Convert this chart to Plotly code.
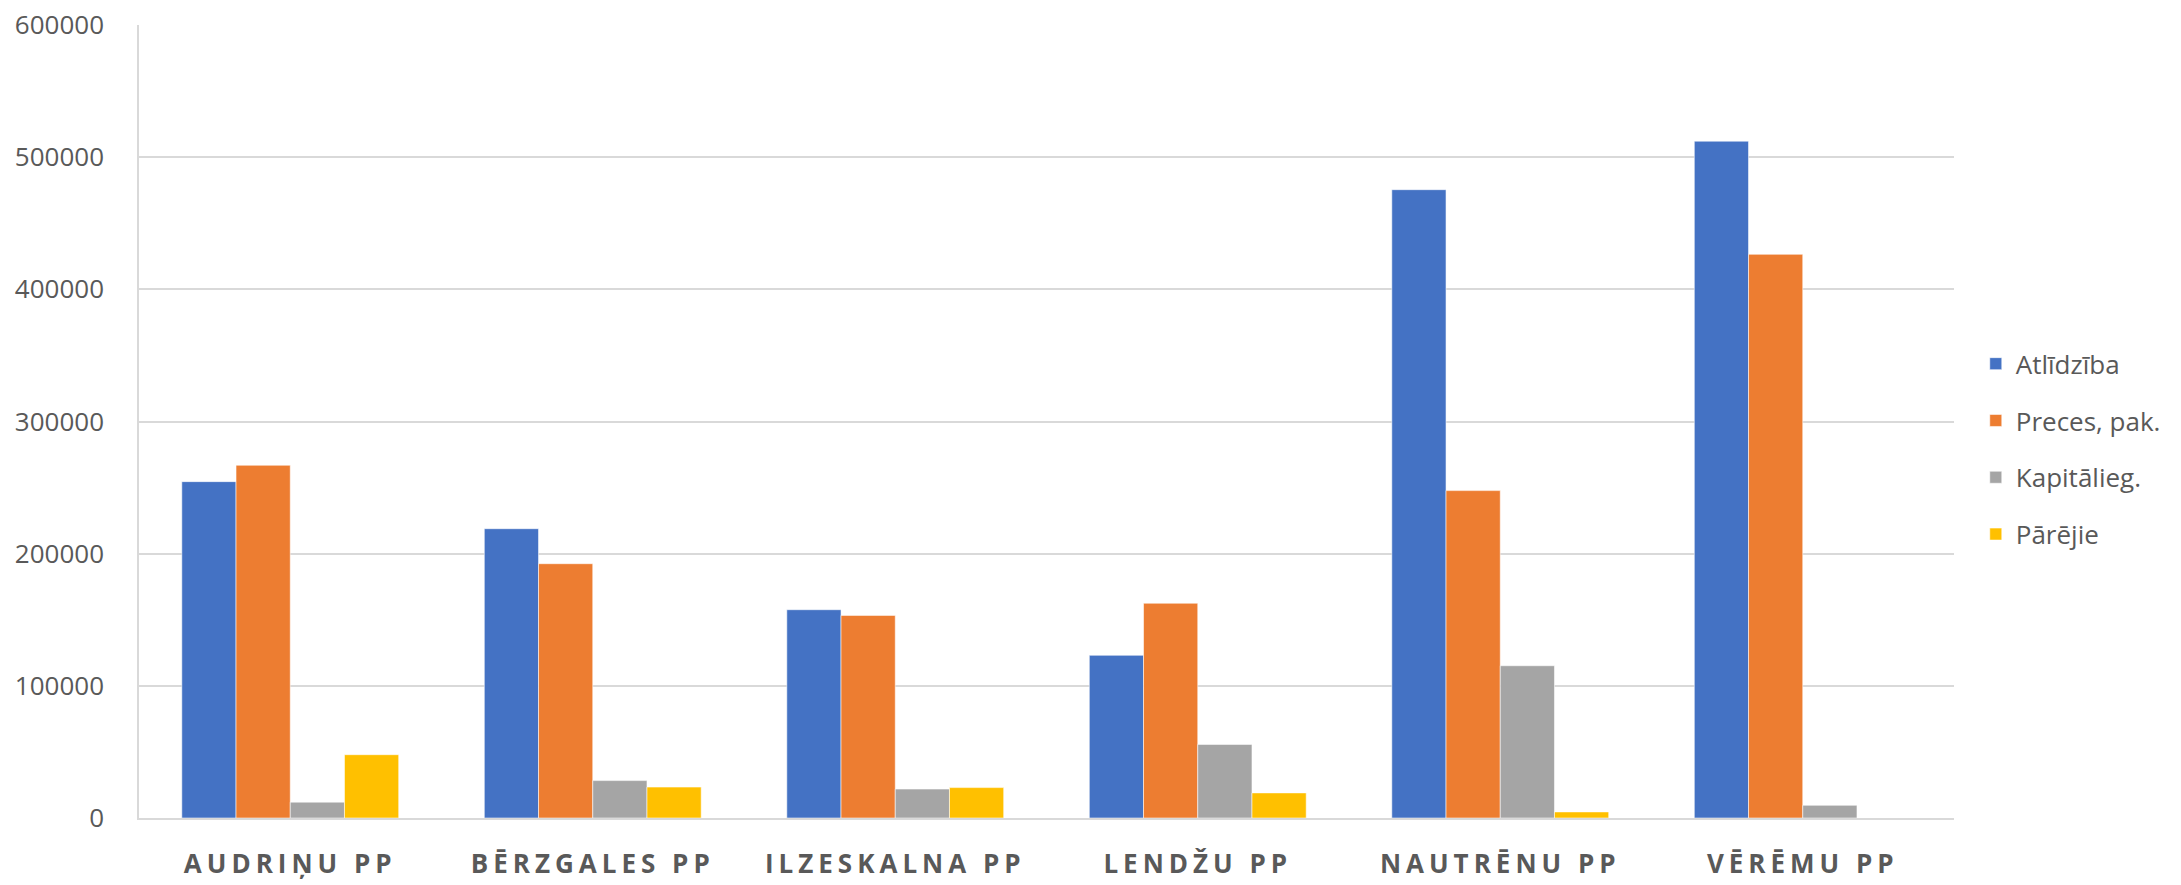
import plotly.graph_objects as go

categories = ["AUDRIŅU PP", "BĒRZGALES PP", "ILZESKALNA PP", "LENDŽU PP", "NAUTRĒNU PP", "VĒRĒMU PP"]

atlidziba = [254500, 218900, 157600, 123100, 475400, 512100]
preces = [266900, 192400, 153300, 162500, 247700, 426500]
kapitalieg = [12000, 28300, 21900, 55700, 115200, 9600]
parejie = [47900, 23400, 23000, 19000, 4600, 0]

series = [
    ("Atlīdzība", atlidziba, "#4472C4"),
    ("Preces, pak.", preces, "#ED7D31"),
    ("Kapitālieg.", kapitalieg, "#A5A5A5"),
    ("Pārējie", parejie, "#FFC000"),
]

fig = go.Figure()
for name, vals, color in series:
    fig.add_trace(go.Bar(
        x=categories, y=vals, name=name, legendgroup=name,
        marker=dict(color=color, line=dict(color="rgba(255,255,255,0.55)", width=1)),
    ))

fig.update_layout(
    width=2181, height=885,
    margin=dict(l=139, r=227, t=25, b=67, autoexpand=False),
    paper_bgcolor="white", plot_bgcolor="white",
    barmode="group", bargap=0.283, bargroupgap=0,
    font=dict(family="Open Sans", color="#595959"),
    legend=dict(
        x=1.012, xanchor="left", y=0.465, yanchor="middle",
        font=dict(size=26, family="Open Sans", color="#595959"),
        traceorder="grouped", tracegroupgap=20,
    ),
)

fig.update_xaxes(
    type="category", automargin=False,
    showgrid=False,
    showline=True, linecolor="#D9D9D9", linewidth=2,
    ticks="", ticklabelstandoff=22,
    tickfont=dict(size=26, family="Open Sans", color="#595959", weight="bold"),
)
fig.update_yaxes(
    range=[0, 600000], dtick=100000, tickformat="d", automargin=False,
    showgrid=True, gridcolor="#D9D9D9", gridwidth=1.5,
    showline=True, linecolor="#D9D9D9", linewidth=1.5,
    zeroline=False,
    ticks="", ticklabelstandoff=28,
    tickfont=dict(size=26, family="Open Sans", color="#595959"),
)

# page margin off so the figure sits at the window corner; spaced-out category labels
page_js = (
    "document.body.style.margin='0';"
    "document.querySelectorAll('.xtick text').forEach(function(t){t.style.letterSpacing='5px';});"
)
fig.write_html("out.html", post_script=page_js, config={"displayModeBar": False})
